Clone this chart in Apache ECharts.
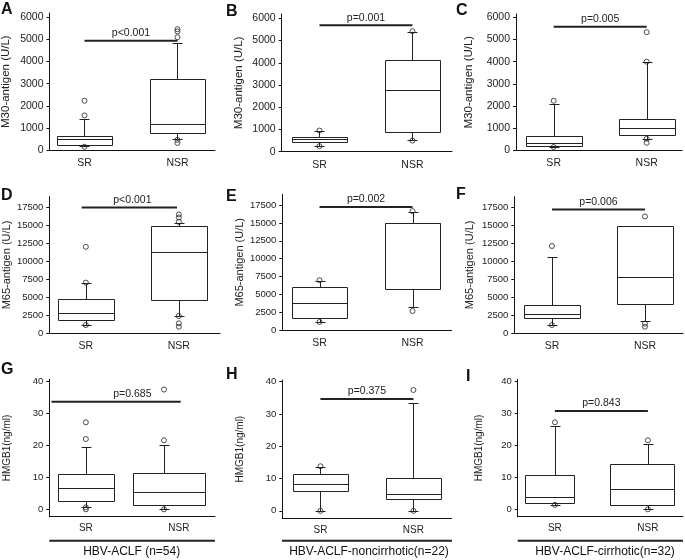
<!DOCTYPE html>
<html><head><meta charset="utf-8">
<script src="https://cdn.jsdelivr.net/npm/echarts@6/dist/echarts.min.js"></script>
<style>html,body{margin:0;padding:0;background:#fff}#c{width:685px;height:560px}</style>
</head><body><div id="c"></div>
<script>
// ---------------- data ----------------
const groups = ['SR', 'NSR'];
const panelLetters = ['A', 'B', 'C', 'D', 'E', 'F', 'G', 'H', 'I'];
const yNames = ['M30-antigen (U/L)', 'M30-antigen (U/L)', 'M30-antigen (U/L)',
                'M65-antigen (U/L)', 'M65-antigen (U/L)', 'M65-antigen (U/L)',
                'HMGB1(ng/ml)', 'HMGB1(ng/ml)', 'HMGB1(ng/ml)'];
const m30Ticks = [0, 1000, 2000, 3000, 4000, 5000, 6000];
const m65Ticks = [0, 2500, 5000, 7500, 10000, 12500, 15000, 17500];
const hmgbTicks = [0, 10, 20, 30, 40];
const groupTitles = ['HBV-ACLF (n=54)', 'HBV-ACLF-noncirrhotic(n=22)', 'HBV-ACLF-cirrhotic(n=32)'];

// box stats per group: [lower whisker, Q1, median, Q3, upper whisker]  (SR, NSR)
const boxA = [[190, 260, 495, 660, 1390], [530, 766, 1171, 3212, 4820]];
const boxB = [[257, 423, 558, 678, 950], [527, 869, 2770, 4113, 5390]];
const boxC = [[170, 194, 315, 644, 2072], [495, 703, 991, 1396, 3964]];
const boxD = [[1153, 1806, 2819, 4806, 6986], [2403, 4625, 11333, 14944, 15361]];
const boxE = [[1160, 1760, 3855, 6005, 6885], [3255, 5810, 15020, 15020, 16560]];
const boxF = [[1111, 2083, 2611, 3840, 10535], [1667, 4042, 7750, 14944, 14944]];
const boxG = [[0.8, 2.7, 6.7, 10.9, 19.4], [0, 1.3, 5.3, 11.4, 20.1]];
const boxH = [[0, 6.2, 8.2, 11.3, 13.5], [0, 3.6, 5.1, 10.3, 33.5]];
const boxI = [[1.4, 2.1, 3.8, 10.7, 25.8], [0, 1.4, 6.4, 14.1, 20.5]];

// outliers (SR, NSR)
const outA = [[2230, 1570, 160], [5450, 5350, 5090, 470, 330]];
const outB = [[950, 250], [5420, 500]];
const outC = [[2234, 150], [4000, 5329, 520, 342]];
const outD = [[7050, 12030, 1150], [15500, 16111, 16528, 2400, 1389, 917]];
const outE = [[7000, 1160], [16650, 2700]];
const outF = [[12127, 1111], [16250, 1292, 875]];
const outG = [[21.9, 27.1, 0.6, 0], [21.5, 37.3, 0]];
const outH = [[13.8, 0], [37.4, 0]];
const outI = [[27.1, 1.4], [21.5, 0]];

const pTexts = ['p<0.001', 'p=0.001', 'p=0.005', 'p<0.001', 'p=0.002', 'p=0.006', 'p=0.685', 'p=0.375', 'p=0.843'];
const pLineY = [4935, 5685, 5576, 17500, 17220, 17220, 33.5, 34.6, 30.6];

const boxes = [boxA, boxB, boxC, boxD, boxE, boxF, boxG, boxH, boxI];
const outs = [outA, outB, outC, outD, outE, outF, outG, outH, outI];
const tickSets = [m30Ticks, m30Ticks, m30Ticks, m65Ticks, m65Ticks, m65Ticks, hmgbTicks, hmgbTicks, hmgbTicks];

// ---------------- layout ----------------
const FONT = "'Liberation Sans', Arial, Helvetica, sans-serif";
const INK = '#222';
const UNIT = 93; // px per category step
const layout = [
  {left: 49.5, top: 13, w: 165.5, h: 137.3, xmin: 0.624, ymin: 0, ymax: 6180, gap: 37.5, letter: [1, 2], row: 0},
  {left: 281.7, top: 14, w: 170.3, h: 137.7, xmin: 0.594, ymin: 0, ymax: 6193, gap: 36.7, letter: [226, 4], row: 0},
  {left: 516, top: 14, w: 166, h: 136.3, xmin: 0.595, ymin: 0, ymax: 6150, gap: 41, letter: [456, 3], row: 0},
  {left: 49.3, top: 196.7, w: 170.7, h: 136.6, xmin: 0.607, ymin: 0, ymax: 19000, gap: 37.3, letter: [1, 188], row: 1, pSpan: [0.955, 1.98]},
  {left: 282.3, top: 194.3, w: 169.4, h: 136, xmin: 0.6, ymin: 0, ymax: 19000, gap: 37.3, letter: [226, 189], row: 1},
  {left: 514.3, top: 196.7, w: 168.7, h: 136.3, xmin: 0.595, ymin: 0, ymax: 19000, gap: 39.3, letter: [456, 187], row: 1},
  {left: 49.3, top: 379.3, w: 165.7, h: 137.4, xmin: 0.607, ymin: -2.3, ymax: 40.5, gap: 37.5, letter: [1, 362], row: 2,
   gx: [1, 1.84], bw: [0.6, 0.78], bdx: [0, 0.054], pSpan: [0.63, 2.02]},
  {left: 282.3, top: 380, w: 169.4, h: 138.3, xmin: 0.59, ymin: -2.3, ymax: 40.5, gap: 37.5, letter: [226, 367], row: 2},
  {left: 517.7, top: 379.3, w: 165.3, h: 137.4, xmin: 0.6, ymin: -2.3, ymax: 40.5, gap: 33, letter: [466, 369], row: 2,
   bw: [0.53, 0.69], bdx: [-0.06, -0.06]}
];
const rowFont = [
  {tick: 10.5, cat: 10.5, name: 11.5, catMargin: 7.5},
  {tick: 9.5, cat: 10.5, name: 11, catMargin: 7.5},
  {tick: 9.5, cat: 10, name: 10, catMargin: 6.5}
];

const grid = [], xAxis = [], yAxis = [], series = [], graphic = [];

layout.forEach((L, i) => {
  const rf = rowFont[L.row];
  const gx = L.gx || [1, 2];
  const bw = L.bw || [0.6, 0.6];
  const bdx = L.bdx || [0, 0];
  const pSpan = L.pSpan || [1, 2];
  grid.push({left: L.left, top: L.top, width: L.w, height: L.h, outerBoundsMode: 'none'});
  xAxis.push({
    type: 'value', gridIndex: i, min: L.xmin, max: L.xmin + L.w / UNIT,
    splitLine: {show: false}, axisTick: {show: false},
    axisLine: {show: true, onZero: false, lineStyle: {color: '#111', width: 1}},
    axisLabel: {
      customValues: [1, 2], margin: rf.catMargin,
      formatter: v => groups[Math.round(v) - 1] || '',
      fontFamily: FONT, fontSize: rf.cat, color: INK
    }
  });
  yAxis.push({
    type: 'value', gridIndex: i, min: L.ymin, max: L.ymax,
    splitLine: {show: false},
    axisLine: {show: true, onZero: false, lineStyle: {color: '#111', width: 1}},
    axisTick: {show: true, length: 3, inside: false, customValues: tickSets[i], lineStyle: {color: '#111'}},
    axisLabel: {customValues: tickSets[i], margin: 6, formatter: v => String(v),
      fontFamily: FONT, fontSize: rf.tick, color: INK},
    name: yNames[i], nameLocation: 'middle', nameGap: L.gap,
    nameTextStyle: {fontFamily: FONT, fontSize: rf.name, color: INK}
  });

  // boxes
  const bdata = boxes[i].map((b, g) => [gx[g]].concat(b).concat([bw[g], bdx[g]]));
  series.push({
    type: 'custom', xAxisIndex: i, yAxisIndex: i, z: 2,
    encode: {x: 0, y: [1, 2, 3, 4, 5]},
    data: bdata,
    renderItem: (params, api) => {
      const x = api.value(0);
      const v = [1, 2, 3, 4, 5].map(k => api.value(k));
      const w = api.value(6), dx = api.value(7);
      const cx = Math.round(api.coord([x, 0])[0]) + 0.5;
      const bcx = api.coord([x + dx, 0])[0];
      const y = v.map(val => Math.round(api.coord([x, val])[1]) + 0.5);
      const half = api.size([w, 0])[0] / 2;
      const bl = Math.round(bcx - half) + 0.5, br = Math.round(bcx + half) + 0.5;
      const cap = 5;
      const st = {stroke: INK, lineWidth: 1, fill: null};
      return {type: 'group', children: [
        {type: 'line', shape: {x1: cx, y1: y[3], x2: cx, y2: y[4]}, style: st},
        {type: 'line', shape: {x1: cx - cap, y1: y[4], x2: cx + cap, y2: y[4]}, style: st},
        {type: 'line', shape: {x1: cx, y1: y[1], x2: cx, y2: y[0]}, style: st},
        {type: 'line', shape: {x1: cx - cap, y1: y[0], x2: cx + cap, y2: y[0]}, style: st},
        {type: 'rect', shape: {x: bl, y: y[3], width: br - bl, height: y[1] - y[3]}, style: {stroke: INK, lineWidth: 1, fill: '#fff'}},
        {type: 'line', shape: {x1: bl, y1: y[2], x2: br, y2: y[2]}, style: st}
      ]};
    }
  });

  // outliers
  const odata = [];
  outs[i].forEach((arr, g) => arr.forEach(val => odata.push([gx[g], val])));
  series.push({
    type: 'scatter', xAxisIndex: i, yAxisIndex: i, z: 3,
    symbol: 'circle', symbolSize: 5, data: odata,
    itemStyle: {color: 'rgba(255,255,255,0)', borderColor: INK, borderWidth: 1},
    emphasis: {disabled: true}, silent: true
  });

  // significance bar
  series.push({
    type: 'custom', xAxisIndex: i, yAxisIndex: i, z: 4,
    encode: {x: [0, 1], y: 2},
    data: [[pSpan[0], pSpan[1], pLineY[i]]],
    renderItem: (params, api) => {
      const p1 = api.coord([api.value(0), api.value(2)]);
      const p2 = api.coord([api.value(1), api.value(2)]);
      const mid = api.coord([1.5, api.value(2)]);
      return {type: 'group', children: [
        {type: 'line', shape: {x1: p1[0], y1: p1[1], x2: p2[0], y2: p2[1]}, style: {stroke: '#222', lineWidth: 2}},
        {type: 'text', style: {x: mid[0], y: mid[1] - 2, text: pTexts[i], align: 'center', verticalAlign: 'bottom',
          fontFamily: FONT, fontSize: 10.5, fill: INK}}
      ]};
    }
  });

  graphic.push({type: 'text', left: L.letter[0], top: L.letter[1],
    style: {text: panelLetters[i], fontFamily: FONT, fontSize: 16, fontWeight: 'bold', fill: '#111'}});
});

// group underlines and titles (bottom row)
const ulines = [[49.3, 215], [282, 452], [517.7, 683]];
const titleCx = [131.7, 369, 605];
ulines.forEach((u, k) => {
  graphic.push({type: 'line', shape: {x1: u[0], y1: 540.7, x2: u[1], y2: 540.7}, style: {stroke: '#222', lineWidth: 2}});
  graphic.push({type: 'text', x: titleCx[k], y: 552,
    style: {text: groupTitles[k], align: 'center', verticalAlign: 'middle', fontFamily: FONT, fontSize: 12, fill: '#111'}});
});

const chart = echarts.init(document.getElementById('c'), null, {renderer: 'canvas', width: 685, height: 560});
chart.setOption({
  animation: false,
  backgroundColor: '#fff',
  grid, xAxis, yAxis, series, graphic
});
</script>
</body></html>
